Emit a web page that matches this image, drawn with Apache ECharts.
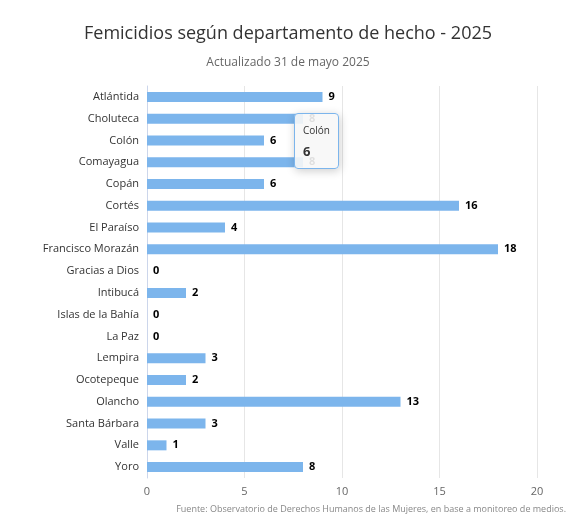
<!DOCTYPE html>
<html><head><meta charset="utf-8">
<script src="https://cdn.jsdelivr.net/npm/echarts@6/dist/echarts.min.js"></script>
<style>html,body{margin:0;padding:0;background:#fff}#c{width:576px;height:528px}</style>
</head><body><div id="c"></div>
<script>
const categories = ["Atlántida","Choluteca","Colón","Comayagua","Copán","Cortés","El Paraíso","Francisco Morazán","Gracias a Dios","Intibucá","Islas de la Bahía","La Paz","Lempira","Ocotepeque","Olancho","Santa Bárbara","Valle","Yoro"];
const values = [9,8,6,8,6,16,4,18,0,2,0,0,3,2,13,3,1,8];
const xTicks = [0,5,10,15,20];
const chart = echarts.init(document.getElementById('c'));
const F = 'Open Sans, Lato, sans-serif';
chart.setOption({
  animation:false,
  title:{text:'Femicidios según departamento de hecho - 2025',subtext:'Actualizado 31 de mayo 2025',left:'center',top:20,itemGap:14,
    textStyle:{fontFamily:F,fontSize:18,fontWeight:'normal',color:'#333'},
    subtextStyle:{fontFamily:F,fontSize:12,color:'#666'}},
  graphic:[{type:'text',right:10,bottom:14,style:{text:'Fuente: Observatorio de Derechos Humanos de las Mujeres, en base a monitoreo de medios.',fontFamily:F,fontSize:9,fill:'#888'}}],
  tooltip:{trigger:'item',alwaysShowContent:true,backgroundColor:'rgba(247,247,247,0.9)',borderColor:'#7cb5ec',borderWidth:1,padding:[6,8],
    textStyle:{fontFamily:F},
    formatter:p=>'<div style="font-size:10px;color:#333">'+p.name+'</div><div style="font-size:13px;font-weight:bold;color:#333">'+p.value+'</div>',
    position:(pt,p,dom,rect)=>[rect.x+rect.width+30, rect.y-22]},
  grid:{left:147,right:39,top:86,bottom:50},
  xAxis:{type:'value',min:0,max:20,interval:5,
    axisLabel:{fontFamily:F,fontSize:11,color:'#666',formatter:v=>xTicks.includes(v)?String(v):''},
    splitLine:{lineStyle:{color:'#e6e6e6'}},axisLine:{show:false},axisTick:{show:false}},
  yAxis:{type:'category',data:categories,inverse:true,
    axisLabel:{fontFamily:F,fontSize:11,color:'#333'},
    axisTick:{show:false},axisLine:{lineStyle:{color:'#ccd6eb'}}},
  series:[{type:'bar',data:values,barWidth:10,itemStyle:{color:'#7cb5ec'},
    label:{show:true,position:'right',fontFamily:F,fontSize:11,fontWeight:'bold',color:'#000',distance:6}}]
});
setTimeout(()=>chart.dispatchAction({type:'showTip',seriesIndex:0,dataIndex:2}),50);
</script></body></html>
